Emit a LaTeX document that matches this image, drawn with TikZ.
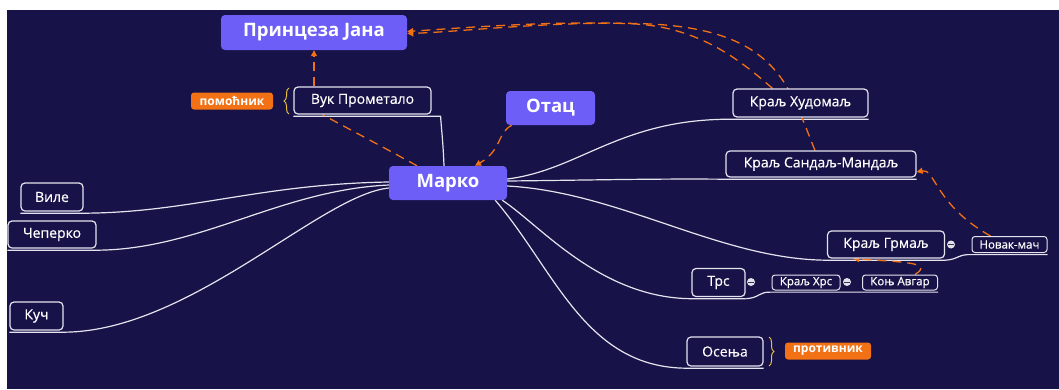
\documentclass[tikz,border=0pt]{standalone}
\usepackage{fontspec}
\setmainfont{Open Sans}
\newfontfamily\topicfont[FakeBold=0.4]{Open Sans}
\usetikzlibrary{arrows.meta,calc,decorations.pathreplacing}
\pgfdeclarelayer{back}
\pgfsetlayers{back,main}
\definecolor{bg}{RGB}{23,18,72}
\definecolor{purp}{RGB}{108,94,247}
\definecolor{orng}{RGB}{242,113,21}
\definecolor{edge}{RGB}{228,228,238}
\definecolor{gold}{RGB}{232,192,64}
\definecolor{knobc}{RGB}{225,225,232}
\begin{document}
\begin{tikzpicture}[x=1pt,y=-1pt,
  mainbox/.style={fill=purp, rounded corners=4pt, text=white, font=\bfseries\fontsize{18.5}{22}\selectfont, inner sep=0pt},
  topic/.style={draw=edge, line width=1.2pt, rounded corners=4pt, fill=bg, text=white, font=\topicfont\fontsize{14}{16}\selectfont, inner sep=0pt},
  leaf/.style={topic, line width=1pt, rounded corners=3pt, font=\topicfont\fontsize{11.5}{13}\selectfont},
  tag/.style={fill=orng, rounded corners=3pt, text=white, font=\bfseries\fontsize{12}{14}\selectfont, inner sep=0pt},
  branch/.style={draw=edge, line width=1.2pt},
  relplain/.style={draw=orng, line width=1.3pt, dash pattern=on 9pt off 6pt},
  rel/.style={relplain, -{Triangle[length=6pt,width=6pt]}},
  knob/.style={circle, fill=knobc, minimum size=8pt, inner sep=0pt},
  bracket/.style={draw=gold, line width=1pt, decorate, decoration={brace, amplitude=5pt}},
]
\useasboundingbox (0,0) rectangle (1059,389);

% central topic and its attached callouts
\node[mainbox, minimum width=118pt, minimum height=34pt] (marko) at (448,183) {Марко};
\node[mainbox, minimum width=186pt, minimum height=35pt] (jana) at (314,32.5) {Принцеза Јана};
\node[mainbox, minimum width=89pt, minimum height=34pt] (otac) at (550.5,108) {Отац};

% main branches
\node[topic, minimum width=137pt, minimum height=27pt] (vuk) at (362.5,100.5) {Вук Прометало};
\node[topic, minimum width=135pt, minimum height=28pt] (hudomalj) at (800.5,103) {Краљ Худомаљ};
\node[topic, minimum width=190pt, minimum height=26pt] (sandalj) at (821,164) {Краљ Сандаљ-Мандаљ};
\node[topic, minimum width=62pt, minimum height=28pt] (vile) at (52,197) {Виле};
\node[topic, minimum width=88pt, minimum height=27pt] (ceperko) at (52,234.5) {Чеперко};
\node[topic, minimum width=53pt, minimum height=28pt] (kuc) at (36.5,316) {Куч};
\node[topic, minimum width=117pt, minimum height=27pt] (grmalj) at (886,244.5) {Краљ Грмаљ};
\node[topic, minimum width=53pt, minimum height=28pt] (trs) at (718.5,282.5) {Трс};
\node[topic, minimum width=76pt, minimum height=29pt] (osenja) at (725,351.5) {Осења};

% sub-branches
\node[leaf, minimum width=75pt, minimum height=16pt] (novak) at (1009.5,244.5) {Новак-мач};
\node[leaf, minimum width=68pt, minimum height=15pt] (hrs) at (806,282.5) {Краљ Хрс};
\node[leaf, minimum width=75pt, minimum height=15pt] (avgar) at (900,282.5) {Коњ Авгар};

% labels
\node[tag, minimum width=82pt, minimum height=17pt] (pomocnik) at (232,101) {помоћник};
\node[tag, minimum width=86pt, minimum height=17pt] (protivnik) at (828,351) {противник};

% collapse knobs
\node[knob] (k1) at (751,282) {};
\node[knob] (k2) at (847,282) {};
\node[knob] (k3) at (951,244.5) {};
\foreach \k in {k1,k2,k3}
  \draw[bg!70!gray, line width=0.8pt] ($(\k)+(-2.6,0)$) -- ($(\k)+(2.6,0)$);

\begin{pgfonlayer}{back}
  \fill[white] (0,0) rectangle (1059,389);
  \fill[bg] (7,10) rectangle (1059,389);

  % label braces
  \draw[bracket] (289,114) -- (289,88);
  \draw[bracket] (769,337) -- (769,366);

  % branch lines, each running on along the bottom of its topic
  \draw[branch] ([xshift=-4pt]marko.north) .. controls (443,140) and (441,125) .. ([xshift=9pt,yshift=-1.6pt]vuk.south east) -- ([yshift=-1.6pt]vuk.south west);
  \draw[branch] ([yshift=1pt]marko.west) .. controls (260,184) and (190,212.6) .. ([yshift=-1.6pt]vile.south east) -- ([yshift=-1.6pt]vile.south west);
  \draw[branch] ([yshift=-2pt]marko.west) .. controls (280,190) and (200,249.6) .. ([yshift=-1.6pt]ceperko.south east) -- ([yshift=-1.6pt]ceperko.south west);
  \draw[branch] ([yshift=-5pt]marko.west) .. controls (320,195) and (190,331.6) .. ([yshift=-1.6pt]kuc.south east) -- ([yshift=-1.6pt]kuc.south west);
  \draw[branch] ([yshift=4pt]marko.east) .. controls (580,170) and (620,118.6) .. ([yshift=-1.6pt]hudomalj.south west) -- ([yshift=-1.6pt]hudomalj.south east);
  \draw[branch] ([yshift=2pt]marko.east) .. controls (600,180) and (650,178.6) .. ([yshift=-1.6pt]sandalj.south west) -- ([yshift=-1.6pt]sandalj.south east);
  \draw[branch] ([yshift=-3pt]marko.east) .. controls (620,192) and (720,259.6) .. ([yshift=-1.6pt]grmalj.south west) -- ([yshift=-1.6pt]grmalj.south east);
  \draw[branch] ([xshift=-5pt]marko.south east) .. controls (540,225) and (600,298) .. ([yshift=-1.6pt]trs.south west) -- ([yshift=-1.6pt]trs.south east);
  \draw[branch] ([xshift=-12pt]marko.south east) .. controls (555,270) and (585,367.6) .. ([yshift=-1.6pt]osenja.south west) -- ([yshift=-1.6pt]osenja.south east);
  \draw[branch] ([yshift=-1.6pt]grmalj.south east) .. controls (958,259.6) and (958,254) .. ([yshift=-1.6pt]novak.south west) -- ([yshift=-1.6pt]novak.south east);
  \draw[branch] ([yshift=-1.6pt]trs.south east) .. controls (760,298) and (758,291.6) .. ([yshift=-1.6pt]hrs.south west) -- ([yshift=-1.6pt]avgar.south east);

  % relationships
  \draw[rel] (vuk.north -| jana.south) -- (jana.south);
  \draw[relplain] ([xshift=-31pt]marko.north) .. controls (385,148) and (345,127) .. ([xshift=-40pt]vuk.south);
  \draw[rel] ([xshift=6pt]otac.south west) .. controls (497,133) and (502,150) .. ([xshift=27pt]marko.north);
  \draw[rel] ([xshift=-28pt]hudomalj.north) .. controls (740,60) and (700,28) .. (636,24) .. controls (560,20) and (460,28) .. ([yshift=1pt]jana.east);
  \draw[rel] ([xshift=-6pt]sandalj.north) .. controls (790,90) and (780,30) .. (650,24) .. controls (560,20) and (460,32) .. ([yshift=-1pt]jana.east);
  \draw[rel] ([xshift=-19pt]novak.north) .. controls (935,205) and (935,168) .. ([yshift=-8pt]sandalj.east);
  \draw[rel] ([xshift=15pt]avgar.north) .. controls (935,262) and (900,262) .. ([xshift=-33pt]grmalj.south);
\end{pgfonlayer}
\end{tikzpicture}
\end{document}
